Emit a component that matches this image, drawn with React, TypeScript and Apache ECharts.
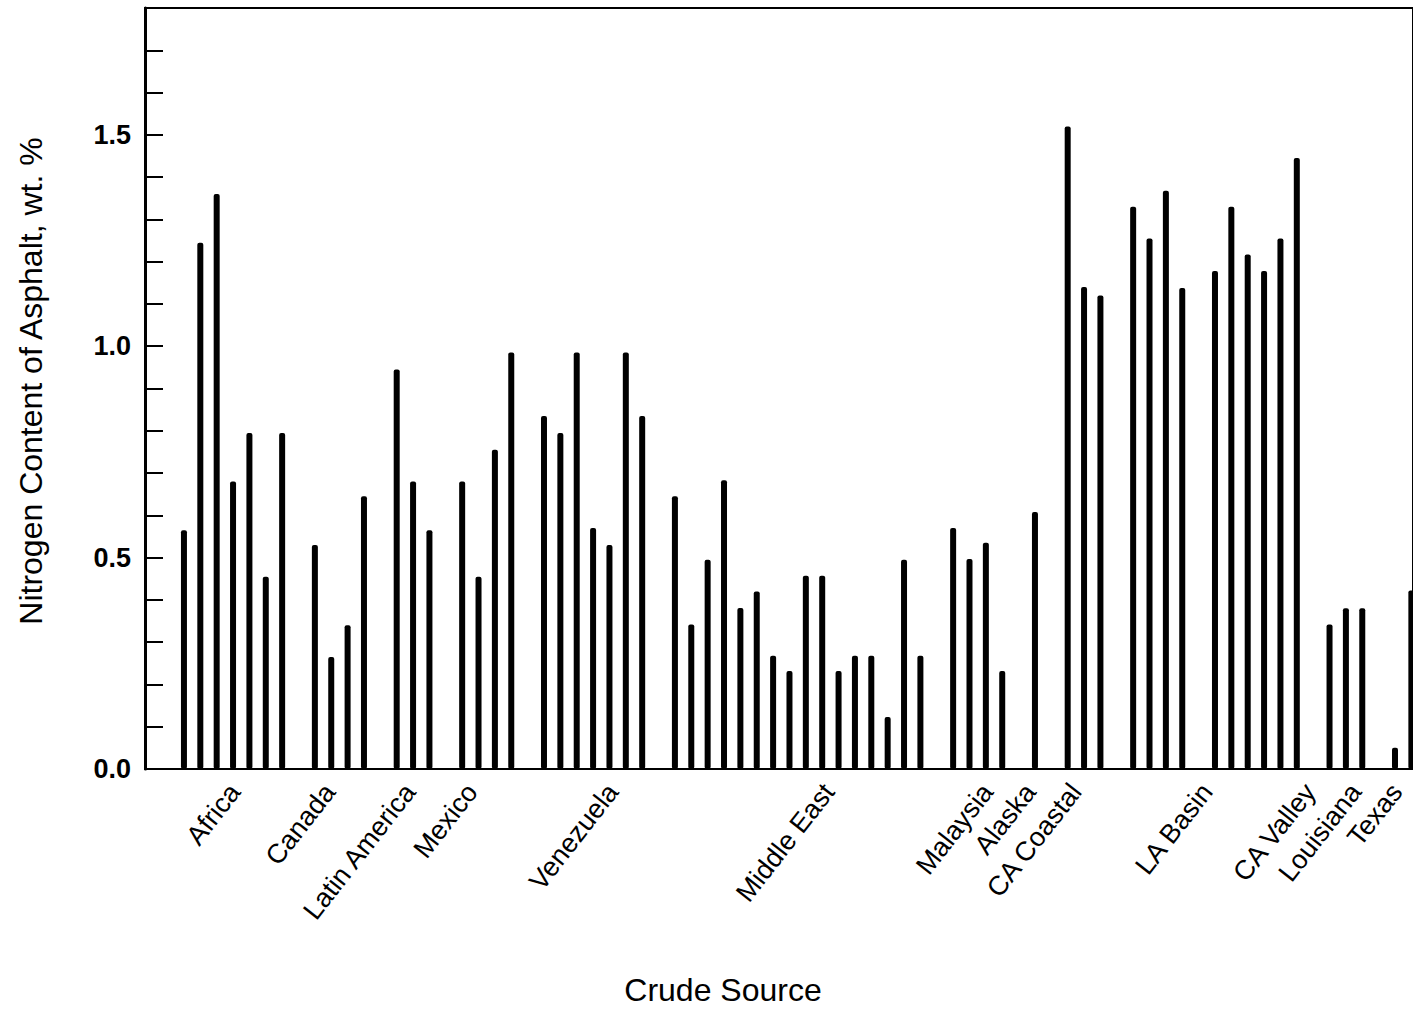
import React, { useEffect, useRef } from "react";
import * as echarts from "echarts";

// Crude sources (group labels along the x axis)
const categories = [
  "Africa",
  "Canada",
  "Latin America",
  "Mexico",
  "Venezuela",
  "Middle East",
  "Malaysia",
  "Alaska",
  "CA Coastal",
  "LA Basin",
  "CA Valley",
  "Louisiana",
  "Texas",
];

// Nitrogen content of asphalt, wt. %, one array per crude source
const africa = [0.565, 1.245, 1.36, 0.68, 0.795, 0.455, 0.795];
const canada = [0.53, 0.265, 0.34, 0.645];
const latinAmerica = [0.945, 0.68, 0.565];
const mexico = [0.68, 0.455, 0.755, 0.985];
const venezuela = [0.835, 0.795, 0.985, 0.57, 0.53, 0.985, 0.835];
const middleEast = [
  0.645, 0.342, 0.495, 0.683, 0.381, 0.42, 0.268, 0.232, 0.457, 0.457, 0.232,
  0.268, 0.268, 0.123, 0.495, 0.268,
];
const malaysia = [0.57, 0.497, 0.535, 0.232];
const alaska = [0.608];
const caCoastal = [1.52, 1.14, 1.12];
const laBasin = [1.33, 1.255, 1.368, 1.138];
const caValley = [1.178, 1.33, 1.217, 1.178, 1.255, 1.445];
const louisiana = [0.342, 0.38, 0.38];
const texas = [0.05, 0.422];

const groupValues = [
  africa,
  canada,
  latinAmerica,
  mexico,
  venezuela,
  middleEast,
  malaysia,
  alaska,
  caCoastal,
  laBasin,
  caValley,
  louisiana,
  texas,
];

// y-axis tick labels
const yTickLabels = [0, 0.5, 1.0, 1.5];

// layout: where each group label is anchored along the slot axis
const labelSlots = [3.1, 8.9, 13.8, 17.6, 26.2, 39.4, 49.1, 51.7, 54.5, 62.5, 68.8, 71.6, 74.1];

const FONT = "'Liberation Sans', Arial, Helvetica, sans-serif";

export default function App() {
  const ref = useRef<HTMLDivElement>(null);

  useEffect(() => {
    if (!ref.current) return;
    const chart = echarts.init(ref.current, null, { renderer: "svg" });

    // one slot per bar, one empty slot between groups
    const barData: [number, number][] = [];
    let slot = 0;
    groupValues.forEach((vals) => {
      vals.forEach((v) => {
        barData.push([slot, v]);
        slot += 1;
      });
      slot += 1;
    });

    const labelMap = new Map<number, string>();
    labelSlots.forEach((s, i) => labelMap.set(s, categories[i]));

    chart.setOption({
      animation: false,
      backgroundColor: "#fff",
      grid: {
        left: 145,
        top: 8,
        right: 0,
        bottom: 242,
        show: true,
        borderColor: "#000",
        borderWidth: 2,
        containLabel: false,
      },
      xAxis: {
        type: "value",
        min: -2.38,
        max: 75.1,
        splitLine: { show: false },
        axisTick: { show: false },
        axisLine: { show: true, onZero: false, lineStyle: { color: "#000", width: 2 } },
        axisLabel: {
          customValues: labelSlots,
          rotate: 52,
          margin: 18,
          fontSize: 27,
          fontFamily: FONT,
          color: "#000",
          showMinLabel: true,
          showMaxLabel: true,
          hideOverlap: false,
          formatter: (v: number) => labelMap.get(v) ?? "",
        },
      },
      yAxis: {
        type: "value",
        min: 0,
        max: 1.8,
        interval: 0.1,
        splitLine: { show: false },
        axisLine: { show: true, onZero: false, lineStyle: { color: "#000", width: 3 } },
        axisTick: {
          show: true,
          inside: true,
          length: 18,
          lineStyle: { color: "#000", width: 2 },
        },
        axisLabel: {
          customValues: yTickLabels,
          margin: 14,
          fontSize: 27,
          fontWeight: "bold",
          fontFamily: FONT,
          color: "#000",
          formatter: (v: number) => v.toFixed(1),
        },
      },
      series: [
        {
          type: "bar",
          data: barData,
          barWidth: 6,
          itemStyle: { color: "#000", borderRadius: 2 },
        },
      ],
      graphic: [
        {
          type: "text",
          x: 723,
          y: 990,
          style: {
            text: "Crude Source",
            fontSize: 32,
            fontFamily: FONT,
            fill: "#000",
            align: "center",
            verticalAlign: "middle",
          },
        },
        {
          type: "text",
          x: 31,
          y: 381,
          rotation: Math.PI / 2,
          style: {
            text: "Nitrogen Content of Asphalt, wt. %",
            fontSize: 32,
            fontFamily: FONT,
            fill: "#000",
            align: "center",
            verticalAlign: "middle",
          },
        },
      ],
    });

    return () => chart.dispose();
  }, []);

  return (
    <div
      ref={ref}
      style={{ position: "fixed", left: 0, top: 0, width: 1413, height: 1011, background: "#fff" }}
    />
  );
}
